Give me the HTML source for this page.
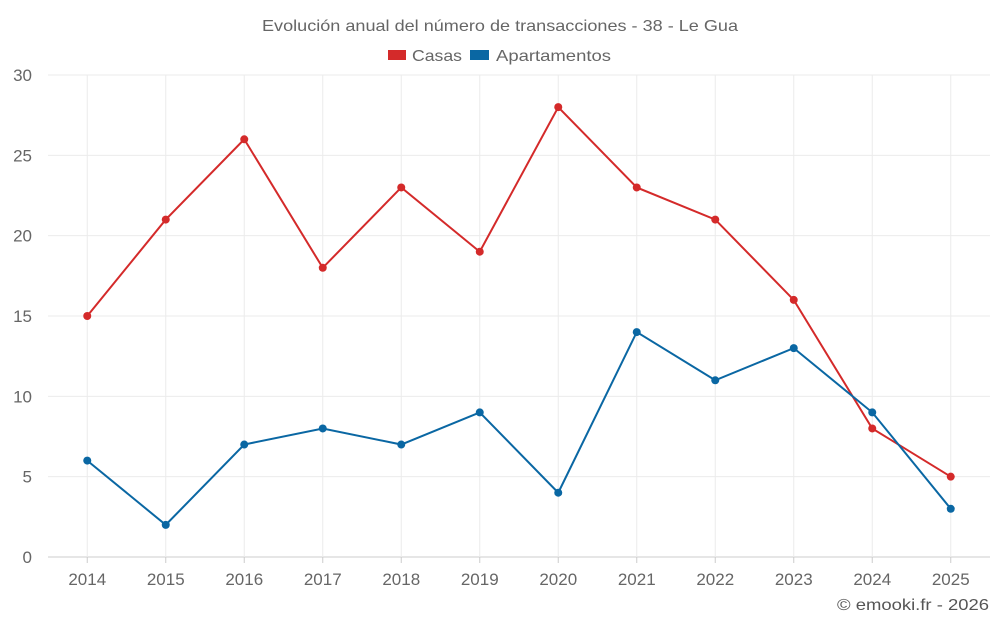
<!DOCTYPE html>
<html><head><meta charset="utf-8"><style>
body{margin:0;background:#fff;font-family:"Liberation Sans",sans-serif;}
svg text{font-family:"Liberation Sans",sans-serif;}
</style></head><body>
<svg id="chart" width="1000" height="625" xmlns="http://www.w3.org/2000/svg">
<text x="262" y="31" textLength="476" lengthAdjust="spacingAndGlyphs" font-size="16" fill="#666">Evolución anual del número de transacciones - 38 - Le Gua</text>
<g>
<g><rect x="388" y="50" width="18" height="10" fill="#d42a2a"/><text x="412" y="61" textLength="50" lengthAdjust="spacingAndGlyphs" font-size="16" fill="#666">Casas</text></g>
<g><rect x="470" y="50" width="19" height="10" fill="#0a67a3"/><text x="496" y="61" textLength="115" lengthAdjust="spacingAndGlyphs" font-size="16" fill="#666">Apartamentos</text></g>
</g>
<g id="grid"></g>
<g id="axes"></g>
<g id="series"></g>
<text x="837" y="610" textLength="152" lengthAdjust="spacingAndGlyphs" font-size="16" fill="#555">© emooki.fr - 2026</text>
</svg>
<script>
const years=["2014","2015","2016","2017","2018","2019","2020","2021","2022","2023","2024","2025"];
const casas=[15,21,26,18,23,19,28,23,21,16,8,5];
const apartamentos=[6,2,7,8,7,9,4,14,11,13,9,3];
const yTicks=[0,5,10,15,20,25,30];
const NS="http://www.w3.org/2000/svg";
const L=48,R=990,T=75,B=557,ymax=30;
const bw=(R-L)/years.length;
const x=i=>L+bw*(i+0.5);
const y=v=>B-(v/ymax)*(B-T);
function mk(tag,attrs,parent){const e=document.createElementNS(NS,tag);for(const k in attrs)e.setAttribute(k,attrs[k]);parent.appendChild(e);return e;}
const grid=document.getElementById('grid'),axes=document.getElementById('axes'),series=document.getElementById('series');
yTicks.forEach(t=>{
 const ln=mk('line',{x1:L,x2:R,y1:y(t),y2:y(t),stroke:t===0?'#ccc':'#ebebeb','stroke-width':1},grid);
 
 
 const tx=mk('text',{x:32,y:y(t)+6,'text-anchor':'end','font-size':17,fill:'#666'},axes);
 tx.textContent=t;
 
 
});
years.forEach((yr,i)=>{
 const ln=mk('line',{x1:x(i),x2:x(i),y1:T,y2:B,stroke:'#ebebeb','stroke-width':1},grid);
 
 
 const tk=mk('line',{x1:x(i),x2:x(i),y1:B,y2:B+6,stroke:'#ccc'},axes);
 
 
 const tx=mk('text',{x:x(i),y:585,'text-anchor':'middle','font-size':17,fill:'#666'},axes);
 tx.textContent=yr;
 
 
});
function draw(vals,color,name){
 const p=mk('polyline',{points:vals.map((v,i)=>x(i)+','+y(v)).join(' '),fill:'none',stroke:color,'stroke-width':2},series);
 
 
 vals.forEach((v,i)=>{
  const c=mk('circle',{cx:x(i),cy:y(v),r:4,fill:color},series);
  
  
 });
}
draw(casas,'#d42a2a','casas');
draw(apartamentos,'#0a67a3','apartamentos');
</script>
</body></html>
